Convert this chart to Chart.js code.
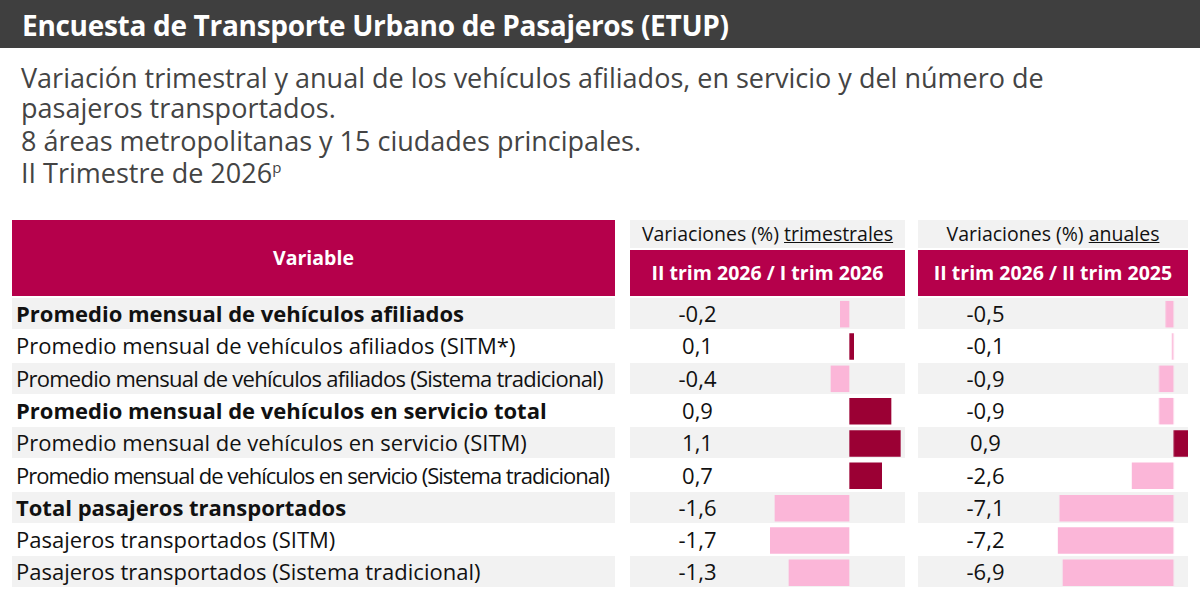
<!DOCTYPE html>
<html>
<head>
<script src="https://cdn.jsdelivr.net/npm/chart.js"></script>
<style>
  body { margin: 0; width: 1200px; height: 606px; background: #fff; font-family: "Open Sans", sans-serif; position: relative; overflow: hidden; }
  .abs { position: absolute; }
  #title { left: 0; top: 0; width: 1200px; height: 48px; background: #3f3f3f; color: #fff; font-weight: bold; font-size: 28px; line-height: 50px; padding-left: 22px; box-sizing: border-box; letter-spacing: -0.3px; }
  .sub { left: 21px; color: #444; font-size: 27px; line-height: 27px; white-space: nowrap; }
  .hdr { background: #b5004b; color: #fff; font-weight: bold; font-size: 19.5px; text-align: center; }
  .cap { background: #f2f2f2; color: #111; font-size: 19.5px; text-align: center; line-height: 28px; }
  .row { height: 31px; line-height: 31px; font-size: 22px; color: #111; white-space: nowrap; }
  .gray { background: #f2f2f2; }
  canvas { position: absolute; }
</style>
</head>
<body>
<div id="title" class="abs">Encuesta de Transporte Urbano de Pasajeros (ETUP)</div>
<div class="abs sub" style="top:64px">Variación trimestral y anual de los vehículos afiliados, en servicio y del número de</div>
<div class="abs sub" style="top:94px">pasajeros transportados.</div>
<div class="abs sub" style="top:127px">8 áreas metropolitanas y 15 ciudades principales.</div>
<div class="abs sub" style="top:159px">II Trimestre de 2026<sup style="font-size:15px;line-height:0">p</sup></div>

<div class="abs hdr" style="left:12px;top:220px;width:603px;height:76px;line-height:76px">Variable</div>
<div class="abs cap" style="left:630px;top:220px;width:275px;height:28px">Variaciones (%) <u>trimestrales</u></div>
<div class="abs cap" style="left:918px;top:220px;width:270px;height:28px">Variaciones (%) <u>anuales</u></div>
<div class="abs hdr" style="left:630px;top:250px;width:275px;height:46px;line-height:46px">II trim 2026 / I trim 2026</div>
<div class="abs hdr" style="left:918px;top:250px;width:270px;height:46px;line-height:46px">II trim 2026 / II trim 2025</div>
<div id="rows"></div>

<canvas id="c1"></canvas>
<canvas id="c2"></canvas>

<script>
const variables = [
  "Promedio mensual de vehículos afiliados",
  "Promedio mensual de vehículos afiliados (SITM*)",
  "Promedio mensual de vehículos afiliados (Sistema tradicional)",
  "Promedio mensual de vehículos en servicio total",
  "Promedio mensual de vehículos en servicio (SITM)",
  "Promedio mensual de vehículos en servicio (Sistema tradicional)",
  "Total pasajeros transportados",
  "Pasajeros transportados (SITM)",
  "Pasajeros transportados (Sistema tradicional)"
];
const boldRows = [0, 3, 6];
const trimestral = [-0.2, 0.1, -0.4, 0.9, 1.1, 0.7, -1.6, -1.7, -1.3];
const anual = [-0.5, -0.1, -0.9, -0.9, 0.9, -2.6, -7.1, -7.2, -6.9];

const rowTop = 298, rowH = 32.3;
const rows = document.getElementById("rows");
const fmt = v => v.toFixed(1).replace(".", ",");
variables.forEach((name, i) => {
  const y = rowTop + i * rowH;
  const g = i % 2 === 0 ? " gray" : "";
  const narrow = i === 2 ? "letter-spacing:-0.75px;" : i === 5 ? "letter-spacing:-1px;" : "";
  const b = boldRows.includes(i) ? "font-weight:bold;" : "";
  rows.innerHTML +=
    `<div class="abs row${g}" style="left:12px;top:${y}px;width:603px;padding-left:4px;box-sizing:border-box;overflow:hidden;${b}${narrow}">${name}</div>` +
    `<div class="abs row${g}" style="left:630px;top:${y}px;width:275px"><span class="abs" style="left:0;width:135px;text-align:center">${fmt(trimestral[i])}</span></div>` +
    `<div class="abs row${g}" style="left:918px;top:${y}px;width:270px"><span class="abs" style="left:0;width:135px;text-align:center">${fmt(anual[i])}</span></div>`;
});

function barChart(id, data, left, width, min, max) {
  const cv = document.getElementById(id);
  cv.style.left = left + "px";
  cv.style.top = rowTop + "px";
  cv.style.width = width + "px";
  cv.style.height = (rowH * 9) + "px";
  new Chart(cv, {
    type: "bar",
    data: {
      labels: variables,
      datasets: [{
        data: data,
        backgroundColor: data.map(v => v < 0 ? "#fbb6d8" : "#9b0034"),
        barPercentage: 0.82,
        categoryPercentage: 1
      }]
    },
    options: {
      indexAxis: "y",
      responsive: false,
      animation: false,
      layout: { padding: 0 },
      plugins: { legend: { display: false }, tooltip: { enabled: false } },
      scales: {
        x: { min: min, max: max, display: false },
        y: { display: false }
      }
    }
  });
}
document.getElementById("c1").width = 147; document.getElementById("c1").height = 291;
document.getElementById("c2").width = 137; document.getElementById("c2").height = 291;
barChart("c1", trimestral, 756, 147, -2, 1.15);
barChart("c2", anual, 1053, 135, -7.5, 0.9);
</script>
</body>
</html>
